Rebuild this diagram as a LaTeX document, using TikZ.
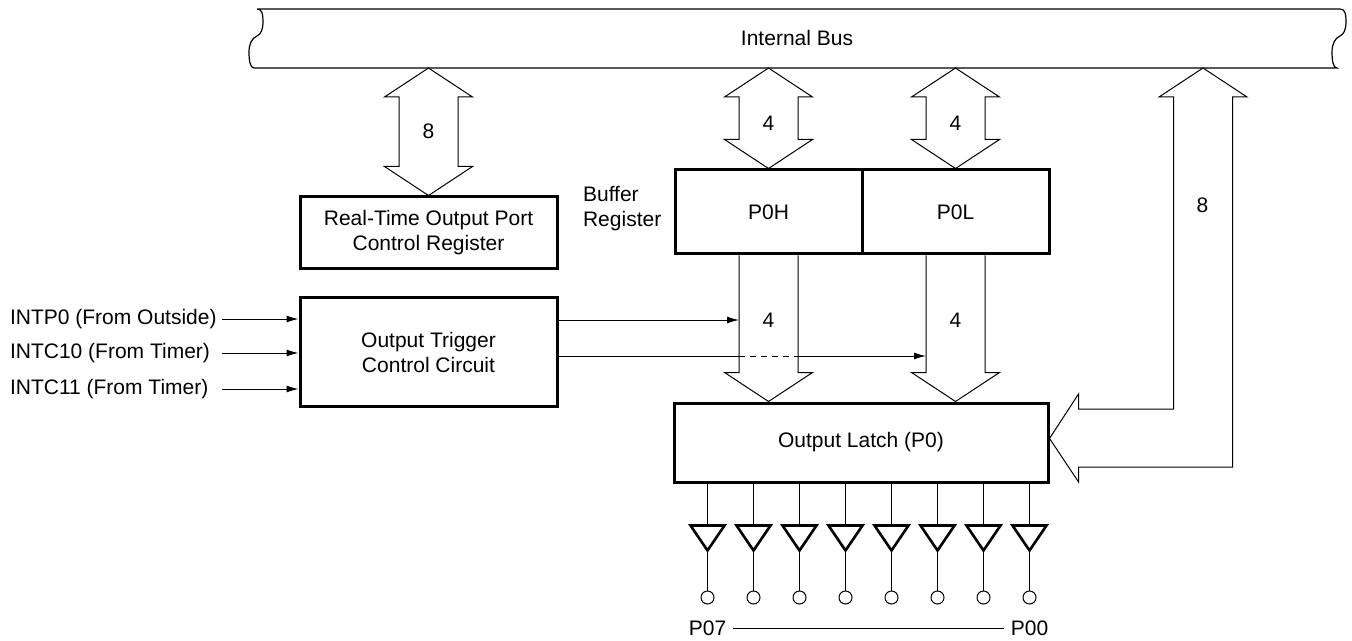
\documentclass[tikz,border=0pt]{standalone}
\usepackage{fontspec}
\setmainfont{Liberation Sans}
\usetikzlibrary{arrows.meta,calc}
\tikzset{
  blk/.style={draw, line width=1.5pt, align=center, inner sep=0pt},
  fat/.style={line width=0.5pt},
  sig/.style={line width=0.5pt, -{Latex[length=6pt,width=3.5pt]}},
  pin/.style={draw, circle, line width=0.5pt, minimum size=6.5pt, inner sep=0pt},
}
% double fat arrow: top tip, bottom tip
\newcommand{\dblbus}[2]{%
  \draw[fat] (#1) -- ++(44,29) -- ++(-14.5,0) -- ($(#2)+(29.5,-29)$) -- ++(14.5,0)
    -- (#2) -- ++(-44,-29) -- ++(14.5,0) -- ($(#1)+(-29.5,29)$) -- ++(-14.5,0) -- cycle;}
% single fat arrow down: open top, tip
\newcommand{\downbus}[2]{%
  \draw[fat] ($(#1)+(-29.5,0)$) -- ($(#2)+(-29.5,-29)$) -- ++(-14.5,0) -- (#2)
    -- ++(44,-29) -- ++(-14.5,0) -- ($(#1)+(29.5,0)$);}
\begin{document}
\begin{tikzpicture}[x=0.5pt, y=-0.5pt, font=\fontsize{10.5pt}{12.5pt}\selectfont]
\useasboundingbox (0,0) rectangle (1352,641);
\draw[line width=0.6pt] (257,9) -- (1340,9)
  .. controls (1345,9) and (1346,14) .. (1346,21)
  .. controls (1346,30) and (1344,34) .. (1340,36)
  .. controls (1335,38) and (1332,44) .. (1332,52)
  .. controls (1332,60) and (1333,68) .. (1337,68)
  -- (254,68)
  .. controls (250,68) and (249,60) .. (249,52)
  .. controls (249,44) and (252,38) .. (257,36)
  .. controls (261,34) and (263,30) .. (263,21)
  .. controls (263,14) and (262,9) .. (257,9);
\node (bus) at (797,38) {Internal Bus};
\coordinate (busb) at (0,68);

\node[blk, minimum width=128.5pt, minimum height=36pt] (rtp) at (428.5,233) {Real-Time Output Port\\Control Register};
\node[blk, minimum width=128.5pt, minimum height=54pt] (trig) at (428.5,352) {Output Trigger\\Control Circuit};
\node[blk, minimum width=93.5pt, minimum height=42pt] (p0h) at (768.5,212) {P0H};
\node[blk, minimum width=93.5pt, minimum height=42pt, anchor=west] (p0l) at ([xshift=-1.5pt]p0h.east) {P0L};
\node[blk, minimum width=187pt, minimum height=39.5pt] (latch) at (861,442.5) {Output Latch (P0)};
\node[align=left, anchor=west] (bufreg) at (576,209) {Buffer\\Register};

\coordinate (rt) at (rtp.north |- busb);
\coordinate (ht) at (p0h.north |- busb);
\coordinate (lt) at (p0l.north |- busb);
\dblbus{rt}{rtp.north}
\dblbus{ht}{p0h.north}
\dblbus{lt}{p0l.north}
\node (n8a) at ($(rt)!0.5!(rtp.north)$) {8};
\node (n4a) at ($(ht)!0.55!(p0h.north)$) {4};
\node (n4b) at ($(lt)!0.55!(p0l.north)$) {4};

\coordinate (hd) at (p0h.south |- latch.north);
\coordinate (ld) at (p0l.south |- latch.north);
\downbus{p0h.south}{hd}
\downbus{p0l.south}{ld}

\draw[fat] ([yshift=2pt]latch.east) -- ++(29,-44.5) -- ++(0,15) -- ++(95,0) -- ++(0,-312)
  -- ++(-14.5,0) -- ++(44,-29) -- ++(44,29) -- ++(-14.5,0) -- ++(0,370) -- ++(-154,0)
  -- ++(0,15) -- cycle;
\node (n8b) at (1202.5,205) {8};

\coordinate (hl) at ($(p0h.south)+(-29.5,0)$);
\coordinate (hr) at ($(p0h.south)+(29.5,0)$);
\coordinate (ll) at ($(p0l.south)+(-29.5,0)$);
\coordinate (t1) at ([yshift=16pt]trig.east);
\coordinate (t2) at ([yshift=-2pt]trig.east);
\draw[sig] (t1) -- (t1 -| hl);
\draw[fat] (t2) -- (t2 -| hl);
\draw[fat, dash pattern=on 3pt off 2.5pt] (t2 -| hl) -- (t2 -| hr);
\draw[sig] (t2 -| hr) -- (t2 -| ll);
\node (n4c) at (p0h.south |- t1) {4};
\node (n4d) at (p0l.south |- t1) {4};

\node[anchor=west] (in0) at (3,319) {INTP0 (From Outside)};
\node[anchor=west] (in1) at (3,353) {INTC10 (From Timer)};
\node[anchor=west] (in2) at (3,389) {INTC11 (From Timer)};
\foreach \n in {in0,in1,in2}
  \draw[sig] (222,0 |- \n.east) -- (\n.east -| trig.west);

\foreach \i in {0,...,7}{
  \path (latch.south west) ++(35+46*\i,0) coordinate (o\i);
  \draw[fat] (o\i) -- ++(0,42) coordinate (a\i);
  \draw[line width=1.3pt, line join=miter] (a\i) -- ++(-17,0) -- ++(17,25) coordinate (k\i) -- ++(17,-25) -- cycle;
  \node[pin] (pin\i) at ($(k\i)+(0,47)$) {};
  \draw[fat] (k\i) -- (pin\i.north);
}
\node (p07) at ($(pin0)+(0,31)$) {P07};
\node (p00) at ($(pin7)+(0,31)$) {P00};
\draw[fat] (p07.east) -- (p00.west);
\end{tikzpicture}
\end{document}
